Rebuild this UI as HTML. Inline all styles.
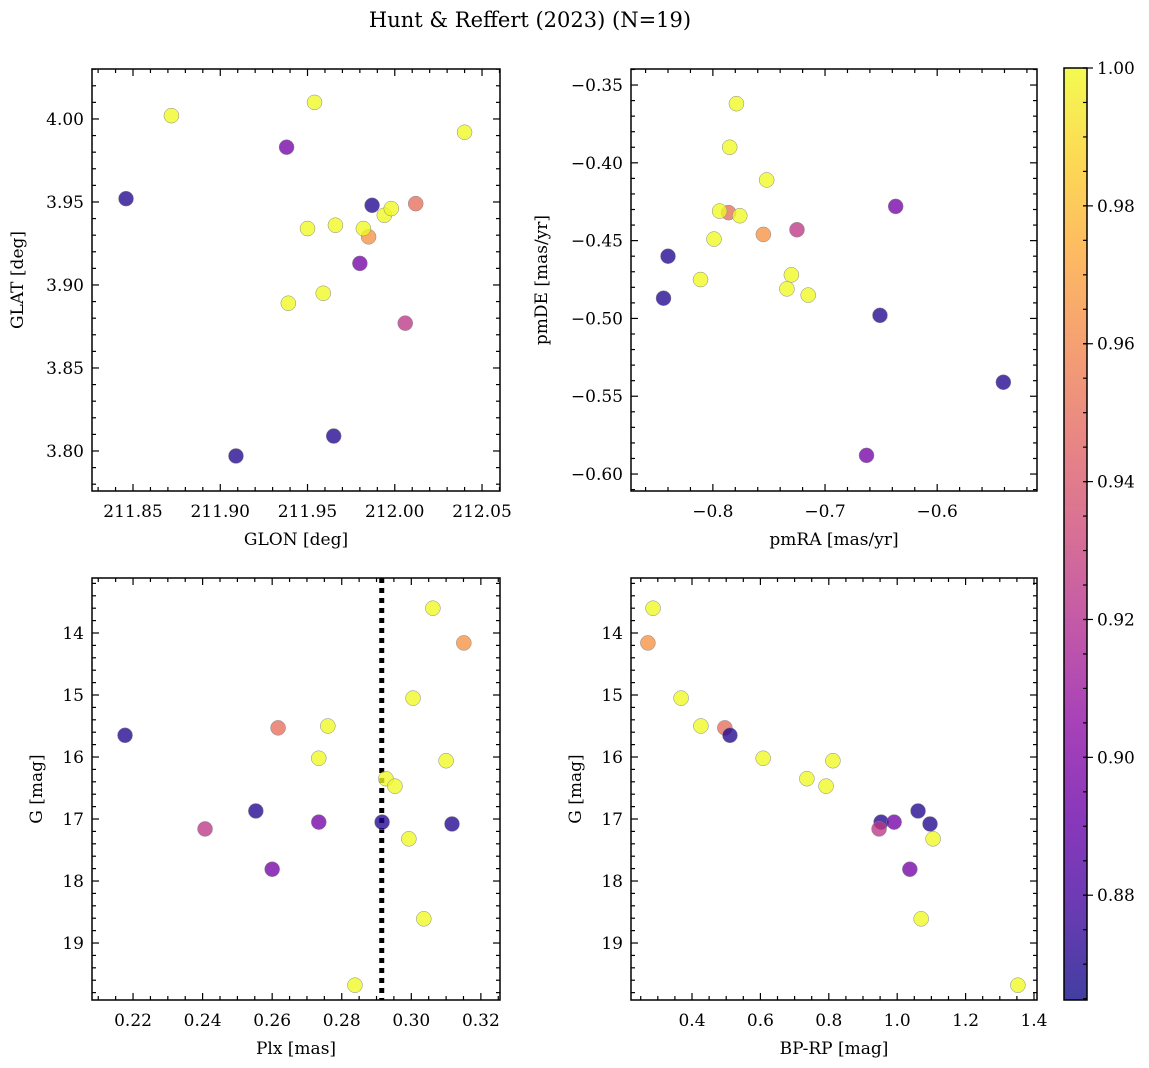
<!DOCTYPE html>
<html><head><meta charset="utf-8"><style>
body{margin:0;background:#fff;}
svg{display:block;font-family:"DejaVu Serif","Liberation Serif",serif;}
</style></head><body>
<svg id="fig" width="1149" height="1068" viewBox="0 0 1149 1068">
<defs><linearGradient id="plasma" x1="0" y1="1" x2="0" y2="0">
<stop offset="0" stop-color="#0d0887"/><stop offset="0.1" stop-color="#41049d"/><stop offset="0.2" stop-color="#6a00a8"/><stop offset="0.3" stop-color="#8f0da4"/><stop offset="0.4" stop-color="#b12a90"/><stop offset="0.5" stop-color="#cc4778"/><stop offset="0.6" stop-color="#e16462"/><stop offset="0.7" stop-color="#f2844b"/><stop offset="0.8" stop-color="#fca636"/><stop offset="0.9" stop-color="#fcce25"/><stop offset="1" stop-color="#f0f921"/>
</linearGradient></defs>
<text x="530" y="27" font-size="21" text-anchor="middle">Hunt &amp; Reffert (2023) (N=19)</text>
</svg>
<script>
// ---- data ----
const glon = [211.846,211.987,211.909,211.965,211.938,211.980,212.006,212.012,211.985,211.872,211.954,212.040,211.950,211.966,211.982,211.994,211.998,211.939,211.959];
const glat = [3.952,3.948,3.797,3.809,3.983,3.913,3.877,3.949,3.929,4.002,4.010,3.992,3.934,3.936,3.934,3.942,3.946,3.889,3.895];
const probTL = [0.87,0.87,0.87,0.87,0.895,0.895,0.925,0.95,0.965,1,1,1,1,1,1,1,1,1,1];
const pmra = [-0.840,-0.844,-0.651,-0.541,-0.637,-0.663,-0.725,-0.786,-0.755,-0.779,-0.785,-0.752,-0.794,-0.776,-0.799,-0.811,-0.730,-0.734,-0.715];
const pmde = [-0.460,-0.487,-0.498,-0.541,-0.428,-0.588,-0.443,-0.432,-0.446,-0.362,-0.390,-0.411,-0.431,-0.434,-0.449,-0.475,-0.472,-0.481,-0.485];
const probTR = [0.87,0.87,0.87,0.87,0.895,0.895,0.925,0.95,0.965,1,1,1,1,1,1,1,1,1,1];
const plx = [0.3062,0.3151,0.3005,0.276,0.2617,0.2177,0.2734,0.31,0.2927,0.2953,0.2553,0.2916,0.2734,0.2407,0.3117,0.2993,0.26,0.3036,0.2838];
const gmag = [13.6,14.16,15.05,15.5,15.53,15.65,16.02,16.06,16.35,16.47,16.87,17.05,17.05,17.16,17.08,17.32,17.81,18.61,19.68];
const bprp = [0.286,0.271,0.368,0.426,0.496,0.511,0.608,0.812,0.736,0.792,1.061,0.953,0.991,0.947,1.096,1.105,1.037,1.07,1.353];
const prob = [1,0.965,1,1,0.95,0.87,1,1,1,1,0.87,0.87,0.895,0.925,0.87,1,0.895,1,1];
const plxRef = 0.2915;
const cbTicks = [0.88,0.90,0.92,0.94,0.96,0.98,1.00];
const vmin = 0.8648, vmax = 1.0;

const NS="http://www.w3.org/2000/svg";
const svg=document.getElementById('fig');
function mk(tag,attrs,parent){const e=document.createElementNS(NS,tag);for(const k in attrs)e.setAttribute(k,attrs[k]);(parent||svg).appendChild(e);return e;}
const stops=[[13,8,135],[65,4,157],[106,0,168],[143,13,164],[177,42,144],[204,71,120],[225,100,98],[242,132,75],[252,166,54],[252,206,37],[240,249,33]];
function plasma(v){let t=(v-vmin)/(vmax-vmin);t=Math.max(0,Math.min(1,t))*10;const i=Math.min(9,Math.floor(t)),f=t-i;const a=stops[i],b=stops[i+1];return 'rgb('+a.map((c,k)=>Math.round(c+(b[k]-c)*f)).join(',')+')';}
function fmt(v,d){return (v<0?'\u2212':'')+Math.abs(v).toFixed(d);}

function panel(o){
  const g=mk('g',{});
  
  
  const X=v=>o.x0+(v-o.xmin)/(o.xmax-o.xmin)*(o.x1-o.x0);
  const Y=o.invert? v=>o.y0+(v-o.ymin)/(o.ymax-o.ymin)*(o.y1-o.y0) : v=>o.y1-(v-o.ymin)/(o.ymax-o.ymin)*(o.y1-o.y0);
  const eps=1e-9;
  for(let v=Math.ceil(o.xmin/o.xminor-eps)*o.xminor;v<=o.xmax+eps;v+=o.xminor){
    const px=X(v);const maj=Math.abs(Math.round(v/o.xmajor)*o.xmajor-v)<o.xminor/10;const L=maj?7:4;
    const t1=mk('line',{x1:px,x2:px,y1:o.y1,y2:o.y1-L,stroke:'#000','stroke-width':1.2},g);
    
    mk('line',{x1:px,x2:px,y1:o.y0,y2:o.y0+L,stroke:'#000','stroke-width':1.2},g);
    if(maj){const t=mk('text',{x:px,y:o.y1+26,'font-size':17,'text-anchor':'middle'},g);t.textContent=fmt(Math.round(v/o.xmajor)*o.xmajor,o.xd);
      }
  }
  const lo=Math.min(o.ymin,o.ymax),hi=Math.max(o.ymin,o.ymax);
  for(let v=Math.ceil(lo/o.yminor-eps)*o.yminor;v<=hi+eps;v+=o.yminor){
    const py=Y(v);const maj=Math.abs(Math.round(v/o.ymajor)*o.ymajor-v)<o.yminor/10;const L=maj?7:4;
    const t1=mk('line',{x1:o.x0,x2:o.x0+L,y1:py,y2:py,stroke:'#000','stroke-width':1.2},g);
    
    mk('line',{x1:o.x1,x2:o.x1-L,y1:py,y2:py,stroke:'#000','stroke-width':1.2},g);
    if(maj){const t=mk('text',{x:o.x0-8,y:py+6,'font-size':17,'text-anchor':'end'},g);t.textContent=fmt(Math.round(v/o.ymajor)*o.ymajor,o.yd);
      }
  }
  if(o.vline!==undefined){const l=mk('line',{x1:X(o.vline),x2:X(o.vline),y1:o.y0,y2:o.y1,stroke:'#000','stroke-width':5,'stroke-dasharray':'5,5'},g);
    }
  for(let i=0;i<o.xs.length;i++){
    const c=mk('circle',{cx:X(o.xs[i]),cy:Y(o.ys[i]),r:7.5,fill:plasma(o.cs[i]),'fill-opacity':0.78,stroke:'#888','stroke-width':0.5},g);
    
  }
  const fr=mk('rect',{x:o.x0,y:o.y0,width:o.x1-o.x0,height:o.y1-o.y0,fill:'none',stroke:'#000','stroke-width':1.5},g);
  
  const xl=mk('text',{x:(o.x0+o.x1)/2,y:o.y1+54,'font-size':17,'text-anchor':'middle'},g);xl.textContent=o.xlabel;
  
  const yx=o.ylx,yy=(o.y0+o.y1)/2;
  const yl=mk('text',{x:yx,y:yy,'font-size':17,'text-anchor':'middle',transform:'rotate(-90 '+yx+' '+yy+')'},g);yl.textContent=o.ylabel;
  
}
panel({name:'glon-glat-panel',x0:92,x1:500,y0:69,y1:491,xmin:211.8265,xmax:212.0603,ymin:3.7759,ymax:4.0301,xmajor:0.05,xminor:0.01,ymajor:0.05,yminor:0.01,xd:2,yd:2,xs:glon,ys:glat,cs:probTL,xlabel:'GLON [deg]',ylabel:'GLAT [deg]',ylx:23});
panel({name:'pm-panel',x0:631,x1:1037,y0:69,y1:491,xmin:-0.873,xmax:-0.511,ymin:-0.6109,ymax:-0.3397,xmajor:0.1,xminor:0.02,ymajor:0.05,yminor:0.01,xd:1,yd:2,xs:pmra,ys:pmde,cs:probTR,xlabel:'pmRA [mas/yr]',ylabel:'pmDE [mas/yr]',ylx:547});
panel({name:'plx-g-panel',x0:92,x1:500,y0:578,y1:1000,xmin:0.2082,xmax:0.3255,ymin:13.113,ymax:19.919,invert:true,xmajor:0.02,xminor:0.005,ymajor:1,yminor:0.2,xd:2,yd:0,xs:plx,ys:gmag,cs:prob,vline:plxRef,xlabel:'Plx [mas]',ylabel:'G [mag]',ylx:42});
panel({name:'cmd-panel',x0:631,x1:1037,y0:578,y1:1000,xmin:0.2216,xmax:1.4088,ymin:13.113,ymax:19.919,invert:true,xmajor:0.2,xminor:0.05,ymajor:1,yminor:0.2,xd:1,yd:0,xs:bprp,ys:gmag,cs:prob,xlabel:'BP-RP [mag]',ylabel:'G [mag]',ylx:581});

const cb=mk('g',{});


const cy0=68,cy1=1000,cx0=1064,cx1=1087;
const CY=v=>cy1-(v-vmin)/(vmax-vmin)*(cy1-cy0);
mk('rect',{x:cx0,y:cy0,width:cx1-cx0,height:cy1-cy0,fill:'url(#plasma)','fill-opacity':0.78},cb);
for(let v=Math.ceil(vmin/0.005)*0.005;v<=vmax+1e-9;v+=0.005){
  mk('line',{x1:cx1-4,x2:cx1,y1:CY(v),y2:CY(v),stroke:'#000','stroke-width':1.2},cb);
}
cbTicks.forEach(v=>{
  mk('line',{x1:cx1-4,x2:cx1+6,y1:CY(v),y2:CY(v),stroke:'#000','stroke-width':1.2},cb);
  const t=mk('text',{x:cx1+10,y:CY(v)+6,'font-size':17},cb);t.textContent=v.toFixed(2);
  
});
mk('rect',{x:cx0,y:cy0,width:cx1-cx0,height:cy1-cy0,fill:'none',stroke:'#000','stroke-width':1.5},cb);
</script>
</body></html>
